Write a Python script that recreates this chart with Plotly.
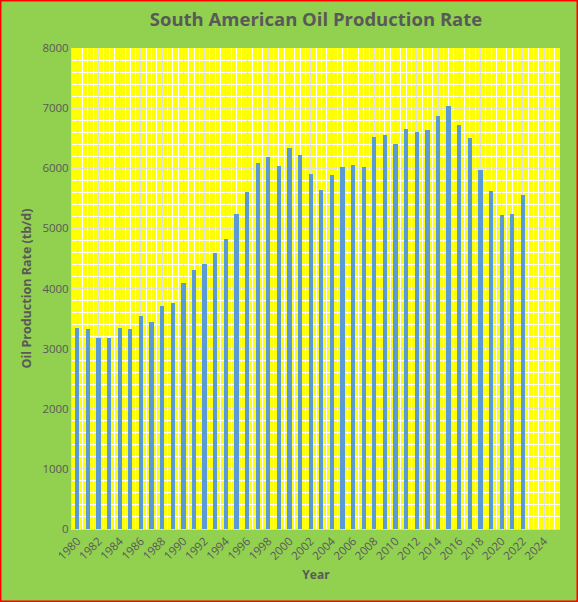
import plotly.graph_objects as go

years = list(range(1980, 2023))
production = [3344, 3328, 3178, 3178, 3344, 3328, 3544, 3444, 3710, 3760,
              4093, 4309, 4409, 4592, 4825, 5241, 5607, 6090, 6190, 6040,
              6339, 6223, 5907, 5641, 5890, 6023, 6057, 6023, 6522, 6556,
              6406, 6656, 6606, 6639, 6872, 7038, 6722, 6506, 5973, 5624,
              5225, 5241, 5557]
tick_years = list(range(1980, 2025, 2))

W, H = 578, 602
ml, mr, mt, mb = 72, 18, 48, 73
pw, ph = W - ml - mr, H - mt - mb

fig = go.Figure()
fig.add_trace(go.Bar(x=years, y=production, width=0.4,
                     marker=dict(color="#5B9BD5", line_width=0)))

font_col = "#595959"
fig.update_layout(
    width=W, height=H,
    margin=dict(l=ml, r=mr, t=mt, b=mb),
    paper_bgcolor="#92D050",
    plot_bgcolor="#FFFF00",
    showlegend=False,
    bargap=0,
    font=dict(family="Open Sans", color=font_col, size=11),
    title=dict(text="<b>South American Oil Production Rate</b>",
               x=(ml + pw / 2) / W, xanchor="center", y=1 - 20 / H, yanchor="middle",
               font=dict(size=18.5, color=font_col)),
)
fig.update_xaxes(
    range=[1979.5, 2025.5], tickvals=tick_years, ticktext=[str(y) for y in tick_years],
    tickangle=-45, showgrid=True, gridcolor="#E0E0E0", gridwidth=1,
    minor=dict(dtick=0.5, tick0=1979.5, showgrid=True, gridcolor="white", gridwidth=1),
    showline=True, linecolor="#D9D9D9", linewidth=1, ticks="",
    zeroline=False, tickfont=dict(size=11.5, color=font_col),
    title=dict(text="<b>Year</b>", font=dict(size=12, color=font_col), standoff=8),
)
fig.update_yaxes(
    range=[0, 8000], dtick=1000, tickformat="d",
    showgrid=True, gridcolor="#E0E0E0", gridwidth=1,
    minor=dict(dtick=200, showgrid=True, gridcolor="white", gridwidth=1),
    showline=True, linecolor="#D9D9D9", linewidth=1, ticks="",
    zeroline=False, tickfont=dict(size=11.5, color=font_col),
    title=dict(text="<b>Oil Production Rate (tb/d)</b>", font=dict(size=12.5, color=font_col), standoff=8),
)
# red frame round the whole chart
fig.add_shape(type="rect", xref="paper", yref="paper",
              x0=-(ml - 0.5) / pw, x1=(W - ml - 0.5) / pw,
              y0=-(mb - 0.5) / ph, y1=(H - mb - 0.5) / ph,
              line=dict(color="red", width=2), fillcolor="rgba(0,0,0,0)", layer="above")

fig.write_html("out.html", config={"displayModeBar": False},
               post_script="document.body.style.margin='0';")
